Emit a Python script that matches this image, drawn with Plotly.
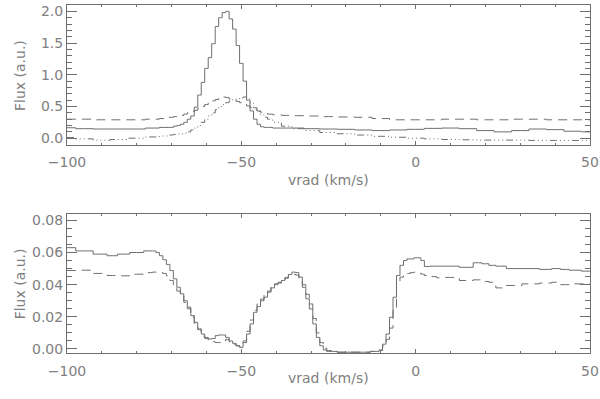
import plotly.graph_objects as go

# velocity grid of the top panel (km/s)
v_top = [-100, -95, -90, -85, -80, -75, -72,
         -70, -69, -68, -67, -66, -65, -64, -63, -62, -61, -60, -59, -58, -57,
         -56, -55, -54, -53, -52, -51, -50, -49, -48, -47, -46, -45, -44, -43,
         -42, -40, -37, -34, -30, -25, -20, -15, -10, -5, 0, 5, 10, 15, 20, 25,
         30, 35, 40, 45, 50]

top_solid = [0.165, 0.15, 0.145, 0.145, 0.145, 0.16, 0.17,
             0.17, 0.19, 0.20, 0.22, 0.25, 0.30, 0.35, 0.49, 0.68, 0.88, 1.10, 1.27, 1.49, 1.76,
             1.90, 1.98, 2.00, 1.88, 1.72, 1.46, 1.18, 0.90, 0.60, 0.43, 0.30, 0.22, 0.18, 0.17,
             0.17, 0.16, 0.16, 0.16, 0.15, 0.145, 0.14, 0.13, 0.12, 0.13, 0.14, 0.155, 0.16, 0.15, 0.12, 0.10,
             0.12, 0.145, 0.135, 0.11, 0.10]

top_dashed = [0.30, 0.30, 0.29, 0.29, 0.29, 0.30, 0.31,
              0.33, 0.34, 0.35, 0.36, 0.38, 0.40, 0.42, 0.44, 0.47, 0.50, 0.53, 0.56, 0.59, 0.61,
              0.63, 0.65, 0.64, 0.62, 0.60, 0.58, 0.56, 0.54, 0.51, 0.48, 0.45, 0.43, 0.41, 0.40,
              0.38, 0.37, 0.36, 0.355, 0.35, 0.34, 0.335, 0.33, 0.31, 0.29, 0.29, 0.29, 0.30, 0.30, 0.29, 0.29,
              0.30, 0.30, 0.29, 0.29, 0.29]

top_dashdot = [0.01, -0.01, -0.03, -0.02, 0.0, 0.02, 0.035,
               0.05, 0.06, 0.065, 0.07, 0.08, 0.10, 0.13, 0.16, 0.20, 0.25, 0.30, 0.35, 0.40, 0.45,
               0.50, 0.53, 0.56, 0.59, 0.61, 0.62, 0.63, 0.65, 0.62, 0.55, 0.48, 0.42, 0.37, 0.33,
               0.30, 0.25, 0.19, 0.15, 0.12, 0.09, 0.07, 0.05, 0.03, 0.015, 0.0, -0.01, -0.02, -0.025, -0.03, -0.03,
               -0.03, -0.035, -0.035, -0.035, -0.035]

# velocity grid of the bottom panel (km/s)
v_bot = [-100, -95, -90, -87, -84, -80, -76,
         -75, -74, -73, -72, -71, -70, -69, -68, -67, -66, -65, -64, -63, -62, -61,
         -60, -59, -58, -57, -56, -55, -54, -53, -52, -51, -50, -49, -48, -47, -46,
         -45, -44, -43, -42, -41, -40, -39, -38, -37, -36, -35, -34, -33, -32, -31,
         -30, -29, -28, -27, -26, -25,
         -20, -15, -11, -10, -9, -8, -7, -6, -5, -4, -3, -2, -1, 0, 1, 2, 3,
         5, 7, 10, 15, 18, 20, 22, 24, 28, 33, 38, 40, 43, 45, 50]

bot_solid = [0.063, 0.061, 0.059, 0.058, 0.059, 0.060, 0.061,
             0.061, 0.060, 0.058, 0.0555, 0.0526, 0.0488, 0.0436, 0.0384, 0.0343, 0.030, 0.026, 0.0208, 0.0166, 0.0125, 0.0093,
             0.0072, 0.0062, 0.0065, 0.0083, 0.0087, 0.0087, 0.0072, 0.005, 0.0035, 0.002, 0.001, 0.004, 0.0093, 0.0156, 0.0228,
             0.0264, 0.030, 0.0322, 0.0353, 0.038, 0.0405, 0.041, 0.0426, 0.0445, 0.0463, 0.0478, 0.0475, 0.0447, 0.0384, 0.0312,
             0.0249, 0.0156, 0.0072, 0.002, -0.0006, -0.0015,
             -0.002, -0.002, -0.0015, -0.0006, 0.003, 0.0093, 0.0197, 0.0322, 0.0457, 0.052, 0.055, 0.056, 0.056, 0.0567, 0.0567, 0.055, 0.0513,
             0.0515, 0.0515, 0.0515, 0.0508, 0.0536, 0.053, 0.052, 0.0515, 0.050, 0.050, 0.0495, 0.050, 0.0495, 0.049, 0.0484]

bot_dashed = [0.0488, 0.049, 0.047, 0.0457, 0.0455, 0.0465, 0.0475,
              0.0478, 0.0478, 0.0475, 0.047, 0.0455, 0.0426, 0.0395, 0.036, 0.033, 0.029, 0.025, 0.020, 0.016, 0.012, 0.008,
              0.0065, 0.0055, 0.0045, 0.004, 0.004, 0.0045, 0.006, 0.0045, 0.003, 0.002, 0.0015, 0.005, 0.011, 0.018, 0.024,
              0.028, 0.031, 0.034, 0.036, 0.039, 0.040, 0.0415, 0.043, 0.044, 0.046, 0.0465, 0.046, 0.044, 0.040, 0.034,
              0.028, 0.019, 0.010, 0.004, 0.0005, -0.001,
              -0.002, -0.002, -0.0015, -0.001, 0.002, 0.006, 0.013, 0.024, 0.0415, 0.0447, 0.0457, 0.047, 0.0475, 0.0478, 0.0472, 0.0465, 0.0457,
              0.045, 0.0443, 0.0445, 0.0426, 0.043, 0.042, 0.0415, 0.038, 0.0395, 0.0405, 0.041, 0.0415, 0.040, 0.0405, 0.0405]

INK = "#6e6e6e"
FONT = dict(family="DejaVu Sans", size=14, color="#808080")
DASH = "9px,6px"
DASH_DOT3 = "7px,3px,1px,3px,1px,3px,1px,3px"

fig = go.Figure()

for ys, dash in ((top_solid, "solid"), (top_dashed, DASH), (top_dashdot, DASH_DOT3)):
    fig.add_trace(go.Scatter(
        x=v_top, y=ys, mode="lines", line_shape="hvh",
        line=dict(color=INK, width=1, dash=dash),
        xaxis="x", yaxis="y",
    ))

for ys, dash in ((bot_solid, "solid"), (bot_dashed, DASH)):
    fig.add_trace(go.Scatter(
        x=v_bot, y=ys, mode="lines", line_shape="hvh",
        line=dict(color=INK, width=1, dash=dash),
        xaxis="x2", yaxis="y2",
    ))

xcommon = dict(
    range=[-100, 50], dtick=50, tick0=0, ticks="inside", ticklen=4,
    tickcolor=INK, linecolor=INK, linewidth=1, mirror="allticks",
    showgrid=False, zeroline=False, tickfont=FONT, ticklabelstandoff=5,
    automargin=False,
    minor=dict(dtick=10, ticks="inside", ticklen=2, tickcolor=INK),
)
ycommon = dict(
    ticks="inside", ticklen=10, tickcolor=INK, linecolor=INK, linewidth=1,
    mirror="allticks", showgrid=False, zeroline=False, tickfont=FONT,
    automargin=False,
)

fig.update_layout(
    width=600, height=399,
    margin=dict(l=67, r=10, t=5, b=46, autoexpand=False),
    paper_bgcolor="white", plot_bgcolor="white",
    showlegend=False,
    xaxis=dict(domain=[0, 1], anchor="y", **xcommon),
    xaxis2=dict(domain=[0, 1], anchor="y2", **xcommon),
    yaxis=dict(domain=[0.599, 1], anchor="x", range=[-0.1, 2.1], dtick=0.5,
               tick0=0, tickformat=".1f",
               minor=dict(dtick=0.1, ticks="inside", ticklen=5, tickcolor=INK),
               **ycommon),
    yaxis2=dict(domain=[0, 0.4006], anchor="x2", range=[-0.0025, 0.0842],
                dtick=0.02, tick0=0, tickformat=".2f",
                minor=dict(dtick=0.005, ticks="inside", ticklen=5, tickcolor=INK),
                **ycommon),
)

for y in (0.496, -0.102):
    fig.add_annotation(text="vrad (km/s)", x=0.5, y=y, xref="paper", yref="paper",
                       showarrow=False, font=FONT)
for y in (0.7986, 0.2):
    fig.add_annotation(text="Flux (a.u.)", x=-0.09, y=y, xref="paper", yref="paper",
                       xanchor="center", yanchor="middle",
                       showarrow=False, textangle=-90, font=FONT)

# drop the default page margin so the figure sits at the window's corner
fig.write_html("out.html", config={"displayModeBar": False},
               post_script="document.body.style.margin = '0px';")
